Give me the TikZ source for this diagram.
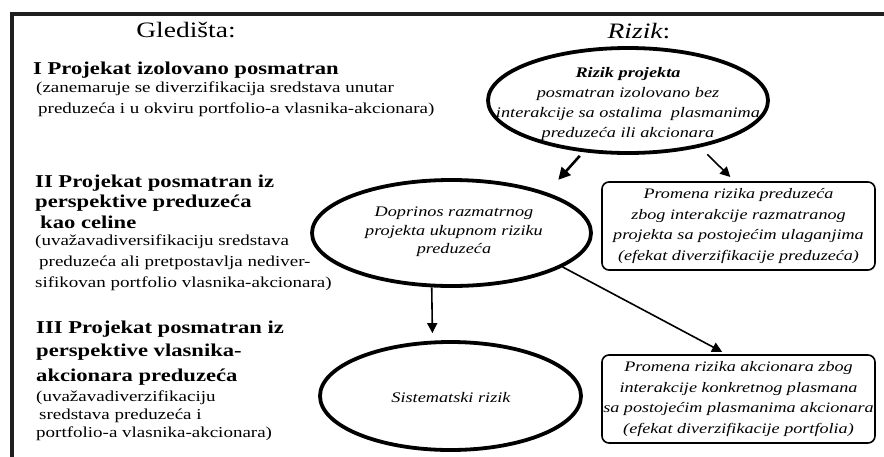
\documentclass[tikz,border=0pt]{standalone}
\usepackage{fontspec}
\setmainfont{Liberation Serif}
\newfontfamily\wide[FakeStretch=1.25]{Liberation Serif}
\usetikzlibrary{shapes.geometric,arrows.meta}
\begin{document}
\begin{tikzpicture}[x=1pt,y=-1pt,
  head/.style={font=\wide\fontsize{22}{26}\selectfont, inner sep=0, anchor=base},
  bhead/.style={font=\wide\bfseries\fontsize{18.1}{20}\selectfont, anchor=base west, inner sep=0},
  note/.style={font=\wide\fontsize{15.2}{20}\selectfont, anchor=base west, inner sep=0},
  oval/.style={ellipse, draw, line width=3.8pt, inner sep=0},
  ovaltext/.style={align=center, inner sep=0, font=\wide\itshape\fontsize{14.6}{20}\selectfont},
  rbox/.style={rectangle, rounded corners=7pt, draw, line width=1.6pt,
    minimum width=273pt, minimum height=88pt, inner sep=0, align=center,
    font=\wide\itshape\fontsize{14.5}{20.5}\selectfont},
  arr/.style={-{Triangle[length=10pt,width=10pt]}, line width=1.6pt},
  thickarr/.style={-{Triangle[length=12pt,width=12pt]}, line width=2.6pt}
]
\useasboundingbox (0,0) rectangle (884,456);
% frame
\draw[line width=4pt, black!88] (12,470) -- (12,13.5) -- (895,13.5);

% headings
\node[head] (hg) at (186,37) {Gledišta:};
\node[head] (hr) at (639,38) {{\itshape Rizik}:};

% left column
\node[bhead] (t1) at (33,74) {I Projekat izolovano posmatran};
\node[note] (n1a) at (36,92) {(zanemaruje se diverzifikacija sredstava unutar};
\node[note] (n1b) at (38,113) {preduzeća i u okviru portfolio-a vlasnika-akcionara)};

\node[bhead] (t2a) at (35,187) {II Projekat posmatran iz};
\node[bhead] (t2b) at (35,207) {perspektive preduzeća};
\node[bhead] (t2c) at (40,228) {kao celine};
\node[note] (n2a) at (35,245) {(uvažavadiversifikaciju sredstava};
\node[note] (n2b) at (39,266) {preduzeća ali pretpostavlja nediver-};
\node[note] (n2c) at (35,287) {sifikovan portfolio vlasnika-akcionara)};

\node[bhead] (t3a) at (36,333) {III Projekat posmatran iz};
\node[bhead] (t3b) at (36,356) {perspektive vlasnika-};
\node[bhead] (t3c) at (36,381) {akcionara preduzeća};
\node[note] (n3a) at (36,401) {(uvažavadiverzifikaciju};
\node[note] (n3b) at (39,419) {sredstava preduzeća i};
\node[note] (n3c) at (36,437) {portfolio-a vlasnika-akcionara)};

% ellipses
\node[oval, minimum width=280pt, minimum height=105pt] (top) at (628,100.5) {};
\node[ovaltext] (topt) at (628,104)
  {{\bfseries Rizik projekta}\\posmatran izolovano bez\\interakcije sa ostalima\hspace{4pt} plasmanima\\preduzeća ili akcionara};
\node[oval, minimum width=279pt, minimum height=106pt] (mid) at (451.5,233) {};
\node[ovaltext, font=\wide\itshape\fontsize{14.6}{18.5}\selectfont] (midt) at (454,232)
  {Doprinos razmatrnog\\projekta ukupnom riziku\\preduzeća};
\node[oval, minimum width=261pt, minimum height=108pt] (bot) at (450.5,396) {};
\node[ovaltext] (bott) at (451,398) {Sistematski rizik};

% boxes
\node[rbox] (b1) at (738.5,226)
  {Promena rizika preduzeća\\zbog interakcije razmatranog\\projekta sa postojećim ulaganjima\\(efekat diverzifikacije preduzeća)};
\node[rbox] (b2) at (738.5,399)
  {Promena rizika akcionara zbog\\interakcije konkretnog plasmana\\sa postojećim plasmanima akcionara\\(efekat diverzifikacije portfolia)};

% arrows
\draw[thickarr, shorten <=5pt, shorten >=17pt] (top.229) -- (mid.23.6);
\draw[arr, shorten <=10pt, shorten >=6pt] (top.327) -- (b1.95);
\draw[arr, shorten >=7.5pt] (mid.250.6) -- (bot.108.1);
\draw[arr, shorten >=5pt] (mid.343) -- (b2.105);
\end{tikzpicture}
\end{document}
